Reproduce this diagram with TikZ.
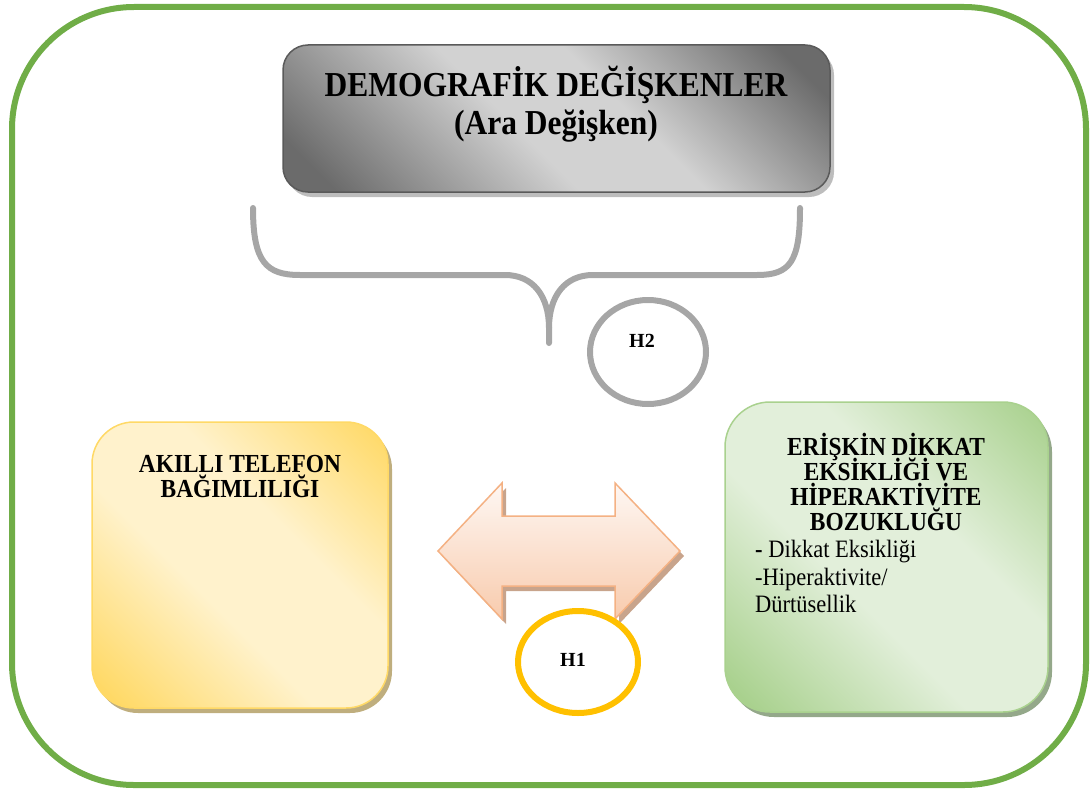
\documentclass[tikz,border=0pt]{standalone}
\usepackage{fontspec}
\setmainfont{Liberation Serif}
\newfontfamily\cond[FakeStretch=0.9]{Liberation Serif}
\usetikzlibrary{shapes.geometric,shadows}
\definecolor{framegreen}{HTML}{70AD47}
\definecolor{bracegray}{HTML}{A6A6A6}
\definecolor{hone}{HTML}{FFC000}
\definecolor{graydark}{HTML}{6B6B6B}
\definecolor{graylight}{HTML}{D2D2D2}
\definecolor{grayedge}{HTML}{5A5A5A}
\definecolor{grayshadow}{HTML}{BDBDBD}
\definecolor{yeldark}{HTML}{FFD966}
\definecolor{yellight}{HTML}{FFF2CC}
\definecolor{yelshadow}{HTML}{BFAE7E}
\definecolor{grndark}{HTML}{A9D18E}
\definecolor{grnlight}{HTML}{E2EFDA}
\definecolor{grnshadow}{HTML}{94A88A}
\definecolor{arrtop}{HTML}{FEF7F3}
\definecolor{arrbot}{HTML}{F8CBAD}
\definecolor{arredge}{HTML}{F4B183}
\definecolor{arrshadow}{HTML}{C8A48C}
\pgfdeclarehorizontalshading{graysh}{100bp}{color(0bp)=(graydark); color(20bp)=(graydark); color(45bp)=(graylight); color(58bp)=(graylight); color(80bp)=(graydark); color(100bp)=(graydark)}
\pgfdeclarehorizontalshading{yelsh}{100bp}{color(0bp)=(yeldark); color(18bp)=(yeldark); color(42bp)=(yellight); color(60bp)=(yellight); color(84bp)=(yeldark); color(100bp)=(yeldark)}
\pgfdeclarehorizontalshading{grnsh}{100bp}{color(0bp)=(grndark); color(18bp)=(grndark); color(42bp)=(grnlight); color(60bp)=(grnlight); color(84bp)=(grndark); color(100bp)=(grndark)}
\begin{document}
\begin{tikzpicture}[x=1pt,y=-1pt,
  card/.style={rectangle, draw, line width=1.5pt, inner sep=0pt},
  graycard/.style={card, draw=grayedge, rounded corners=25,
    shade, shading=graysh, shading angle=45,
    drop shadow={shadow xshift=4pt, shadow yshift=-5pt, fill=grayshadow, opacity=1}},
  yelcard/.style={card, draw=yeldark, rounded corners=42,
    shade, shading=yelsh, shading angle=45,
    drop shadow={shadow xshift=4pt, shadow yshift=-5pt, fill=yelshadow, opacity=1}},
  grncard/.style={card, draw=grndark, rounded corners=45,
    shade, shading=grnsh, shading angle=45,
    drop shadow={shadow xshift=4pt, shadow yshift=-5pt, fill=grnshadow, opacity=1}},
  bigtitle/.style={font=\cond\bfseries\fontsize{35}{40}\selectfont, inner sep=0pt, anchor=base},
  boxtitle/.style={font=\cond\bfseries\fontsize{26}{30}\selectfont, inner sep=0pt, anchor=base},
  boxtext/.style={font=\cond\fontsize{25}{28}\selectfont, inner sep=0pt, anchor=base west},
  hlabel/.style={font=\bfseries\fontsize{20}{24}\selectfont, inner sep=0pt},
  hyp/.style={ellipse, draw, line width=6pt, inner sep=0pt},
  bracestyle/.style={draw=bracegray, line width=6pt, line cap=round, line join=round}
]
\useasboundingbox (0,0) rectangle (1092,792);

% outer frame
\node[draw=framegreen, line width=6pt, rectangle, rounded corners=122,
      minimum width=1074, minimum height=778, inner sep=0pt] (frame) at (549,396) {};

% top grey box
\node[graycard, minimum width=547, minimum height=147] (demo) at (556.5,118.5) {};
\node[bigtitle] (demo1) at (556,96) {DEMOGRAFİK DEĞİŞKENLER};
\node[bigtitle] (demo2) at (556,134) {(Ara Değişken)};

% brace
\path[bracestyle] (253,208) .. controls (253,262) and (266,275) .. (300,275)
   -- (505,275) .. controls (533,275) and (549,296) .. (549,328) -- (549,343);
\path[bracestyle] (549,328) .. controls (549,296) and (565,275) .. (593,275)
   -- (757,275) .. controls (790,275) and (800,262) .. (800,208);

% H2
\node[hyp, draw=bracegray, minimum width=116, minimum height=104] (h2) at (648,352) {};
\node[hlabel] (h2t) at (642,341) {H2};

% yellow box
\node[yelcard, minimum width=296, minimum height=286] (phone) at (240,565) {};
\node[boxtitle] (phone1) at (240,472) {AKILLI TELEFON};
\node[boxtitle] (phone2) at (240,497) {BAĞIMLILIĞI};

% green box
\node[grncard, minimum width=323, minimum height=310] (adhd) at (886.5,557) {};
\node[boxtitle] (adhd1) at (886,455) {ERİŞKİN DİKKAT};
\node[boxtitle] (adhd2) at (886,480) {EKSİKLİĞİ VE};
\node[boxtitle] (adhd3) at (886,505) {HİPERAKTİVİTE};
\node[boxtitle] (adhd4) at (886,530) {BOZUKLUĞU};
\node[boxtext] (adhd5) at (755,557) {\textbf{-} Dikkat Eksikliği};
\node[boxtext] (adhd6) at (755,585) {-Hiperaktivite/};
\node[boxtext] (adhd7) at (755,612) {Dürtüsellik};

% double arrow
\def\arrowpath{(438,551) -- (502,483) -- (502,516) -- (615,516) -- (615,483)
   -- (680,551) -- (615,619) -- (615,586) -- (502,586) -- (502,619) -- cycle}
\begin{scope}[shift={(4,5)}]
  \fill[arrshadow] \arrowpath;
\end{scope}
\shade[top color=arrtop, bottom color=arrbot] \arrowpath;
\draw[arredge, line width=1.5pt, line join=miter] \arrowpath;

% H1
\node[hyp, draw=hone, minimum width=120, minimum height=102] (h1) at (578,662) {};
\node[hlabel] (h1t) at (573,660) {H1};
\end{tikzpicture}
\end{document}
